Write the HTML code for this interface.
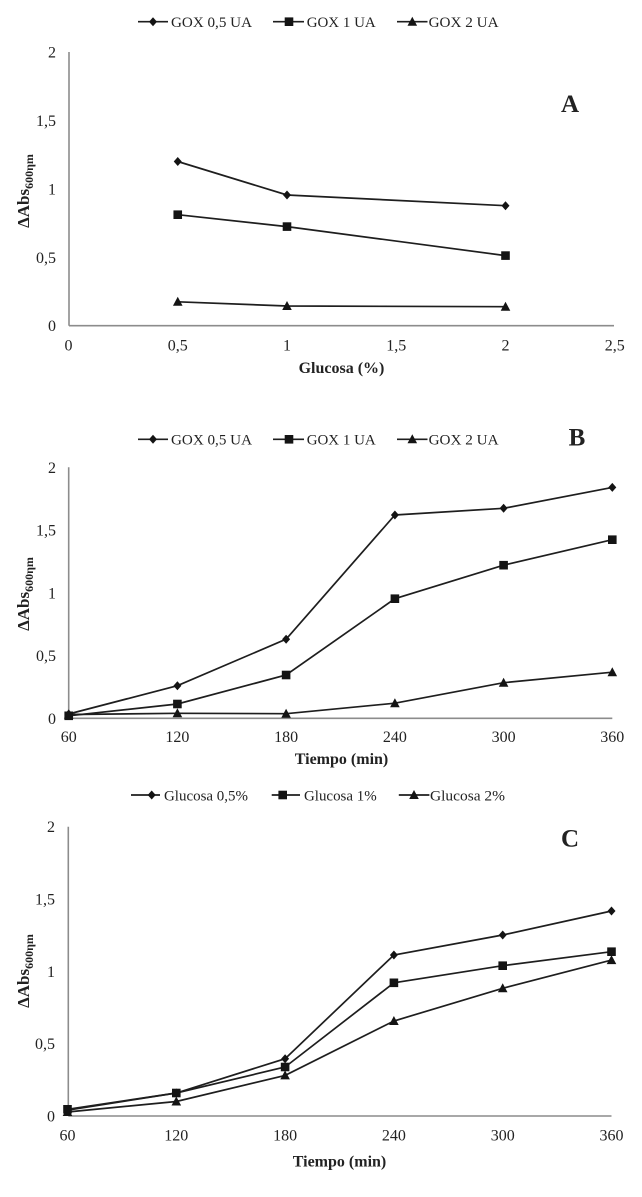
<!DOCTYPE html>
<html>
<head>
<meta charset="utf-8">
<style>
html,body{margin:0;padding:0;background:#fff;}
svg{display:block;}
text{font-family:"Liberation Serif","DejaVu Serif",serif;fill:#222;}
.tk{font-size:16px;}
.lg{font-size:15px;}
.ax{font-size:16px;font-weight:bold;}
.pl{font-size:25px;font-weight:bold;}
.yl{font-size:17px;font-weight:bold;}
.axis{stroke:#8c8c8c;stroke-width:1.6;fill:none;}
.ser{stroke:#1e1e1e;stroke-width:1.7;fill:none;}
.mk{fill:#141414;stroke:none;}
</style>
</head>
<body>
<svg width="642" height="1197" viewBox="0 0 642 1197" xmlns="http://www.w3.org/2000/svg">
<defs>
  <path id="dia" d="M0,-4.5 L4,0 L0,4.5 L-4,0 Z"/>
  <path id="sq" d="M-4.3,-4.3 H4.3 V4.3 H-4.3 Z"/>
  <path id="tri" d="M0,-5 L4.8,4 L-4.8,4 Z"/>
</defs>
<rect width="642" height="1197" fill="#fff"/>

<!-- ================= PANEL A ================= -->
<g>
  <line x1="138" y1="21.7" x2="168" y2="21.7" class="ser"/>
  <use href="#dia" x="153" y="21.7" class="mk"/>
  <text x="171" y="27" class="lg" textLength="81" lengthAdjust="spacingAndGlyphs">GOX 0,5 UA</text>
  <line x1="273" y1="21.7" x2="304" y2="21.7" class="ser"/>
  <use href="#sq" x="289" y="21.7" class="mk"/>
  <text x="306.7" y="27" class="lg" textLength="69" lengthAdjust="spacingAndGlyphs">GOX 1 UA</text>
  <line x1="397" y1="21.7" x2="427.5" y2="21.7" class="ser"/>
  <use href="#tri" x="412.3" y="21.7" class="mk"/>
  <text x="428.6" y="27" class="lg" textLength="70" lengthAdjust="spacingAndGlyphs">GOX 2 UA</text>
</g>
<text x="570" y="112" class="pl" text-anchor="middle">A</text>
<line x1="69" y1="52" x2="69" y2="325.7" class="axis"/>
<line x1="69" y1="325.7" x2="614" y2="325.7" class="axis"/>
<g text-anchor="end">
  <text x="56" y="331.2" class="tk">0</text>
  <text x="56" y="262.8" class="tk">0,5</text>
  <text x="56" y="194.4" class="tk">1</text>
  <text x="56" y="125.9" class="tk">1,5</text>
  <text x="56" y="57.5" class="tk">2</text>
</g>
<g text-anchor="middle">
  <text x="68.5" y="350.5" class="tk">0</text>
  <text x="177.75" y="350.5" class="tk">0,5</text>
  <text x="287" y="350.5" class="tk">1</text>
  <text x="396.25" y="350.5" class="tk">1,5</text>
  <text x="505.5" y="350.5" class="tk">2</text>
  <text x="614.75" y="350.5" class="tk">2,5</text>
</g>
<text x="341.5" y="373" class="ax" text-anchor="middle">Glucosa (%)</text>
<text transform="translate(29,191) rotate(-90)" class="yl" text-anchor="middle">ΔAbs<tspan font-size="12" dy="4">600ηm</tspan></text>
<polyline class="ser" points="177.75,161.5 287,195 505.5,205.7"/>
<polyline class="ser" points="177.75,214.7 287,226.6 505.5,255.6"/>
<polyline class="ser" points="177.75,301.8 287,306 505.5,306.7"/>
<use href="#dia" x="177.75" y="161.5" class="mk"/>
<use href="#dia" x="287" y="195" class="mk"/>
<use href="#dia" x="505.5" y="205.7" class="mk"/>
<use href="#sq" x="177.75" y="214.7" class="mk"/>
<use href="#sq" x="287" y="226.6" class="mk"/>
<use href="#sq" x="505.5" y="255.6" class="mk"/>
<use href="#tri" x="177.75" y="301.8" class="mk"/>
<use href="#tri" x="287" y="306" class="mk"/>
<use href="#tri" x="505.5" y="306.7" class="mk"/>

<!-- ================= PANEL B ================= -->
<g>
  <line x1="138" y1="439.3" x2="168" y2="439.3" class="ser"/>
  <use href="#dia" x="153" y="439.3" class="mk"/>
  <text x="171" y="444.6" class="lg" textLength="81" lengthAdjust="spacingAndGlyphs">GOX 0,5 UA</text>
  <line x1="273" y1="439.3" x2="304" y2="439.3" class="ser"/>
  <use href="#sq" x="289" y="439.3" class="mk"/>
  <text x="306.7" y="444.6" class="lg" textLength="69" lengthAdjust="spacingAndGlyphs">GOX 1 UA</text>
  <line x1="397" y1="439.3" x2="427.5" y2="439.3" class="ser"/>
  <use href="#tri" x="412.3" y="439.3" class="mk"/>
  <text x="428.6" y="444.6" class="lg" textLength="70" lengthAdjust="spacingAndGlyphs">GOX 2 UA</text>
</g>
<text x="577" y="445.5" class="pl" text-anchor="middle">B</text>
<line x1="68.7" y1="467.3" x2="68.7" y2="718.3" class="axis"/>
<line x1="68.7" y1="718.3" x2="612.3" y2="718.3" class="axis"/>
<g text-anchor="end">
  <text x="56" y="723.8" class="tk">0</text>
  <text x="56" y="661.1" class="tk">0,5</text>
  <text x="56" y="598.3" class="tk">1</text>
  <text x="56" y="535.5" class="tk">1,5</text>
  <text x="56" y="472.8" class="tk">2</text>
</g>
<g text-anchor="middle">
  <text x="68.7" y="742.2" class="tk">60</text>
  <text x="177.4" y="742.2" class="tk">120</text>
  <text x="286.1" y="742.2" class="tk">180</text>
  <text x="394.9" y="742.2" class="tk">240</text>
  <text x="503.6" y="742.2" class="tk">300</text>
  <text x="612.3" y="742.2" class="tk">360</text>
</g>
<text x="341.5" y="764" class="ax" text-anchor="middle">Tiempo (min)</text>
<text transform="translate(29,594) rotate(-90)" class="yl" text-anchor="middle">ΔAbs<tspan font-size="12" dy="4">600ηm</tspan></text>
<polyline class="ser" points="68.7,714 177.4,685.7 286.1,639.2 394.9,515 503.6,508.3 612.3,487.4"/>
<polyline class="ser" points="68.7,715.8 177.4,704 286.1,675 394.9,598.7 503.6,565.2 612.3,539.7"/>
<polyline class="ser" points="68.7,714.5 177.4,713.3 286.1,713.7 394.9,703.2 503.6,682.7 612.3,672.2"/>
<g class="mk">
  <use href="#dia" x="68.7" y="714"/><use href="#dia" x="177.4" y="685.7"/><use href="#dia" x="286.1" y="639.2"/>
  <use href="#dia" x="394.9" y="515"/><use href="#dia" x="503.6" y="508.3"/><use href="#dia" x="612.3" y="487.4"/>
  <use href="#sq" x="68.7" y="715.8"/><use href="#sq" x="177.4" y="704"/><use href="#sq" x="286.1" y="675"/>
  <use href="#sq" x="394.9" y="598.7"/><use href="#sq" x="503.6" y="565.2"/><use href="#sq" x="612.3" y="539.7"/>
  <use href="#tri" x="68.7" y="714.5"/><use href="#tri" x="177.4" y="713.3"/><use href="#tri" x="286.1" y="713.7"/>
  <use href="#tri" x="394.9" y="703.2"/><use href="#tri" x="503.6" y="682.7"/><use href="#tri" x="612.3" y="672.2"/>
</g>

<!-- ================= PANEL C ================= -->
<g>
  <line x1="131" y1="795" x2="160" y2="795" class="ser"/>
  <use href="#dia" x="151.7" y="795" class="mk"/>
  <text x="164" y="800.3" class="lg" textLength="84" lengthAdjust="spacingAndGlyphs">Glucosa 0,5%</text>
  <line x1="271.7" y1="795" x2="300" y2="795" class="ser"/>
  <use href="#sq" x="282.7" y="795" class="mk"/>
  <text x="304" y="800.3" class="lg" textLength="72.7" lengthAdjust="spacingAndGlyphs">Glucosa 1%</text>
  <line x1="398.8" y1="795" x2="429.4" y2="795" class="ser"/>
  <use href="#tri" x="414" y="795" class="mk"/>
  <text x="430" y="800.3" class="lg" textLength="75" lengthAdjust="spacingAndGlyphs">Glucosa 2%</text>
</g>
<text x="570" y="846.5" class="pl" text-anchor="middle">C</text>
<line x1="68.3" y1="826.7" x2="68.3" y2="1116" class="axis"/>
<line x1="68.3" y1="1116" x2="611.5" y2="1116" class="axis"/>
<g text-anchor="end">
  <text x="55" y="1121.5" class="tk">0</text>
  <text x="55" y="1049.2" class="tk">0,5</text>
  <text x="55" y="976.9" class="tk">1</text>
  <text x="55" y="904.5" class="tk">1,5</text>
  <text x="55" y="832.2" class="tk">2</text>
</g>
<g text-anchor="middle">
  <text x="67.5" y="1140.5" class="tk">60</text>
  <text x="176.3" y="1140.5" class="tk">120</text>
  <text x="285.1" y="1140.5" class="tk">180</text>
  <text x="393.9" y="1140.5" class="tk">240</text>
  <text x="502.7" y="1140.5" class="tk">300</text>
  <text x="611.5" y="1140.5" class="tk">360</text>
</g>
<text x="339.5" y="1166.5" class="ax" text-anchor="middle">Tiempo (min)</text>
<text transform="translate(29,971) rotate(-90)" class="yl" text-anchor="middle">ΔAbs<tspan font-size="12" dy="4">600ηm</tspan></text>
<polyline class="ser" points="67.5,1110.2 176.3,1093 285.1,1058.7 393.9,955 502.7,935 611.5,911"/>
<polyline class="ser" points="67.5,1109.3 176.3,1093 285.1,1067 393.9,982.8 502.7,965.7 611.5,951.7"/>
<polyline class="ser" points="67.5,1112 176.3,1101.5 285.1,1075.4 393.9,1021 502.7,988.3 611.5,960.1"/>
<g class="mk">
  <use href="#dia" x="67.5" y="1110.2"/><use href="#dia" x="176.3" y="1093"/><use href="#dia" x="285.1" y="1058.7"/>
  <use href="#dia" x="393.9" y="955"/><use href="#dia" x="502.7" y="935"/><use href="#dia" x="611.5" y="911"/>
  <use href="#tri" x="67.5" y="1112"/><use href="#tri" x="176.3" y="1101.5"/><use href="#tri" x="285.1" y="1075.4"/>
  <use href="#tri" x="393.9" y="1021"/><use href="#tri" x="502.7" y="988.3"/><use href="#tri" x="611.5" y="960.1"/>
  <use href="#sq" x="67.5" y="1109.3"/><use href="#sq" x="176.3" y="1093"/><use href="#sq" x="285.1" y="1067"/>
  <use href="#sq" x="393.9" y="982.8"/><use href="#sq" x="502.7" y="965.7"/><use href="#sq" x="611.5" y="951.7"/>
</g>
</svg>
</body>
</html>
